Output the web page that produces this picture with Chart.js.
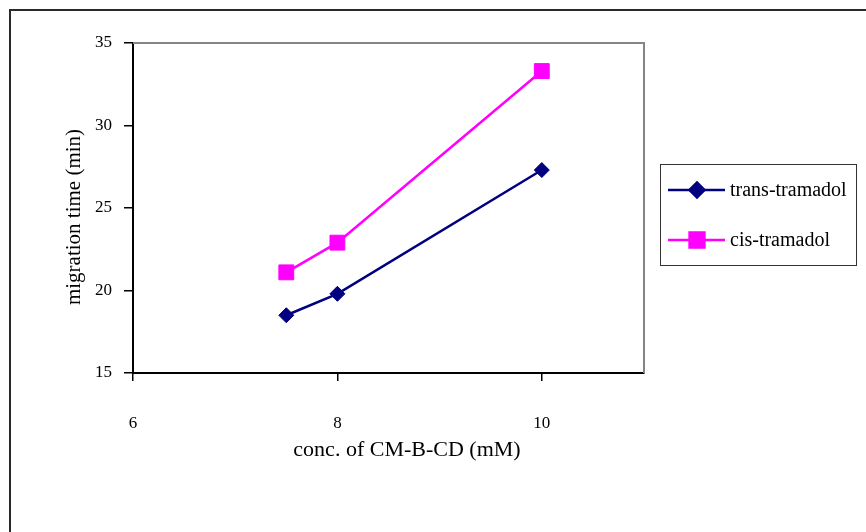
<!DOCTYPE html>
<html>
<head>
<meta charset="utf-8">
<script src="https://cdn.jsdelivr.net/npm/chart.js@4/dist/chart.umd.min.js"></script>
<style>
  html, body { margin: 0; padding: 0; background: #ffffff; }
  canvas { display: block; }
</style>
</head>
<body>
<canvas id="chart" width="866" height="532"></canvas>
<script>
// ==================== DATA ====================
const concentrations = [7.5, 8, 10];          // conc. of CM-B-CD (mM)
const transTimes = [18.5, 19.8, 27.3];         // trans-tramadol migration time (min)
const cisTimes = [21.1, 22.9, 33.3];           // cis-tramadol migration time (min)
const xTickValues = [6, 8, 10];
const yTickValues = [15, 20, 25, 30, 35];
const seriesNames = ['trans-tramadol', 'cis-tramadol'];
const xTitle = 'conc. of CM-B-CD (mM)';
const yTitle = 'migration time (min)';

const serif = "'Liberation Serif', 'Times New Roman', serif";

function toPoints(xs, ys) {
    return xs.map((x, i) => ({ x: x, y: ys[i] }));
}

// frame, plot border, axis titles and legend, drawn the way the old spreadsheet did
const decorPlugin = {
    id: 'decor',
    beforeDraw(chart) {
        const ctx = chart.ctx;
        ctx.save();
        ctx.fillStyle = '#ffffff';
        ctx.fillRect(0, 0, chart.width, chart.height);
        ctx.restore();
    },
    beforeDatasetsDraw(chart) {
        const { ctx, chartArea: a } = chart;
        ctx.save();
        // outer frame (top + left visible)
        ctx.strokeStyle = '#2a2a2a';
        ctx.lineWidth = 2;
        ctx.beginPath();
        ctx.moveTo(866, 10);
        ctx.lineTo(10, 10);
        ctx.lineTo(10, 532);
        ctx.stroke();
        // plot area border, grey, top + right
        ctx.strokeStyle = '#858585';
        ctx.lineWidth = 2;
        ctx.beginPath();
        ctx.moveTo(a.left, a.top);
        ctx.lineTo(a.right, a.top);
        ctx.lineTo(a.right, a.bottom);
        ctx.stroke();
        ctx.restore();
    },
    afterDraw(chart) {
        const ctx = chart.ctx;
        ctx.save();
        ctx.fillStyle = '#000000';
        ctx.textAlign = 'center';
        ctx.textBaseline = 'middle';
        ctx.font = '22px ' + serif;
        ctx.fillText(xTitle, 407, 450);
        ctx.font = '21px ' + serif;
        ctx.translate(74, 217);
        ctx.rotate(-Math.PI / 2);
        ctx.fillText(yTitle, 0, 0);
        ctx.restore();

        // legend
        ctx.save();
        ctx.strokeStyle = '#333333';
        ctx.lineWidth = 1;
        ctx.strokeRect(660.5, 164.5, 196, 101);
        const rows = [190, 240];
        chart.data.datasets.forEach((ds, i) => {
            const y = rows[i];
            ctx.strokeStyle = ds.borderColor;
            ctx.lineWidth = ds.borderWidth;
            ctx.beginPath();
            ctx.moveTo(668, y);
            ctx.lineTo(725, y);
            ctx.stroke();
            ctx.fillStyle = ds.pointBackgroundColor;
            ctx.strokeStyle = ds.pointBorderColor;
            Chart.helpers.drawPoint(ctx, {
                pointStyle: ds.pointStyle,
                radius: ds.pointRadius,
                rotation: 0,
                borderWidth: 1
            }, 697, y);
            ctx.fillStyle = '#000000';
            ctx.font = '20px ' + serif;
            ctx.textAlign = 'left';
            ctx.textBaseline = 'middle';
            ctx.fillText(ds.label, 730, y + 1);
        });
        ctx.restore();
    }
};

new Chart(document.getElementById('chart'), {
    type: 'scatter',
    data: {
        datasets: [{
            label: seriesNames[0],
            data: toPoints(concentrations, transTimes),
            showLine: true,
            borderColor: '#000080',
            backgroundColor: '#000080',
            borderWidth: 2.5,
            pointStyle: 'rectRot',
            pointRadius: 7.5,
            pointBackgroundColor: '#000080',
            pointBorderColor: '#000080',
            pointBorderWidth: 1
        }, {
            label: seriesNames[1],
            data: toPoints(concentrations, cisTimes),
            showLine: true,
            borderColor: '#ff00ff',
            backgroundColor: '#ff00ff',
            borderWidth: 2.5,
            pointStyle: 'rect',
            pointRadius: 10.5,
            pointBackgroundColor: '#ff00ff',
            pointBorderColor: '#ff00ff',
            pointBorderWidth: 1
        }]
    },
    options: {
        responsive: false,
        animation: false,
        layout: {
            padding: { left: 0, top: 43, right: 222, bottom: 0 }
        },
        plugins: {
            legend: { display: false },
            tooltip: { enabled: false }
        },
        scales: {
            x: {
                type: 'linear',
                min: 6,
                max: 11,
                afterBuildTicks: scale => {
                    scale.ticks = xTickValues.map(v => ({ value: v }));
                },
                afterFit: scale => {
                    scale.height = 159;
                },
                ticks: {
                    color: '#000000',
                    padding: 32,
                    maxRotation: 0,
                    font: { family: serif, size: 17 }
                },
                grid: {
                    drawOnChartArea: false,
                    drawTicks: true,
                    tickLength: 8,
                    color: '#000000',
                    lineWidth: 1.5
                },
                border: { color: '#000000', width: 2 }
            },
            y: {
                min: 15,
                max: 35,
                afterBuildTicks: scale => {
                    scale.ticks = yTickValues.map(v => ({ value: v }));
                },
                afterFit: scale => {
                    scale.width = 133;
                },
                ticks: {
                    color: '#000000',
                    padding: 12,
                    font: { family: serif, size: 17 }
                },
                grid: {
                    drawOnChartArea: false,
                    drawTicks: true,
                    tickLength: 9,
                    color: '#000000',
                    lineWidth: 1.5
                },
                border: { color: '#000000', width: 2 }
            }
        }
    },
    plugins: [decorPlugin]
});
</script>
</body>
</html>
